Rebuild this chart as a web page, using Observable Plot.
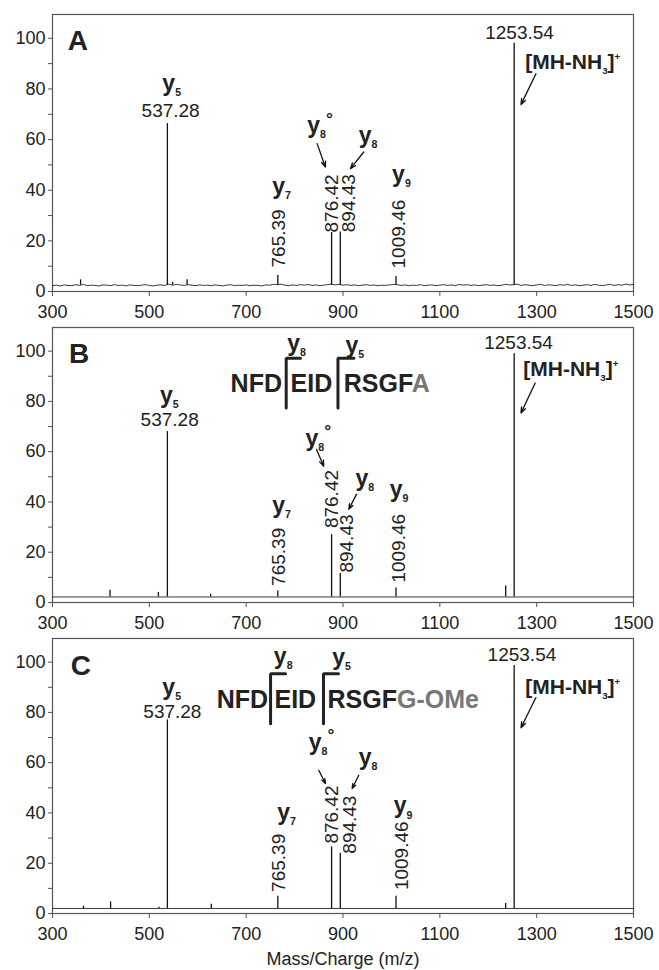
<!DOCTYPE html>
<html><head><meta charset="utf-8">
<script src="https://cdn.jsdelivr.net/npm/d3@7"></script>
<script src="https://cdn.jsdelivr.net/npm/@observablehq/plot@0.6"></script>
<style>
body{margin:0;background:#fff;}
#chart svg{display:block;}
</style></head><body><div id="chart"></div>
<script>
// ---- axes ----
const xTicks = [300, 500, 700, 900, 1100, 1300, 1500];
const yTicks = [0, 20, 40, 60, 80, 100];
const yMinorTicks = [10, 30, 50, 70, 90];
const xLabel = "Mass/Charge (m/z)";

// ---- spectra: [m/z, relative intensity] ----
const peaksA = [[358,4.6],[548,3.6],[578,4.6],[537.28,66.3],[765.39,6.3],[876.42,23.3],[894.43,23.5],[1009.46,5.9],[1253.54,98]];
const peaksB = [[418.8,4.9],[518.7,4.0],[537.28,68],[626.6,3.3],[765.39,4.6],[876.42,27],[894.43,11.5],[1009.46,5.8],[1236,6.6],[1253.54,99]];
const peaksC = [[364,2.9],[420,4.6],[520,2.5],[537.28,77],[628,3.7],[765.39,6.9],[876.42,26.5],[894.43,24],[1009.46,6.9],[1236,4],[1253.54,98.7]];
const baseA = 2.5, baseB = 2.2, baseC = 2.0;
const noiseA = [[300,2.3],[308,2.5],[316,2.2],[324,2.6],[332,2.4],[340,2.3],[348,2.7],[356,2.4],[364,2.8],[372,2.3],[380,2.5],[388,2.4],[396,2.2],[404,2.6],[412,2.5],[420,2.3],[428,2.7],[436,2.4],[444,2.5],[452,2.2],[460,2.6],[468,2.4],[476,2.3],[484,2.5],[492,2.7],[500,2.4],[508,2.2],[516,2.5],[524,2.6],[532,2.4],[540,2.9],[548,2.5],[556,2.8],[564,2.6],[572,2.4],[580,2.7],[588,2.5],[596,2.3],[604,2.6],[612,2.4],[620,2.5],[628,2.3],[636,2.6],[644,2.4],[652,2.2],[660,2.5],[668,2.7],[676,2.3],[684,2.5],[692,2.4],[700,2.6],[708,2.3],[716,2.5],[724,2.4],[732,2.2],[740,2.6],[748,2.5],[756,2.8],[764,2.7],[772,2.9],[780,2.5],[788,2.3],[796,2.6],[804,2.4],[812,2.7],[820,2.5],[828,2.8],[836,2.4],[844,2.6],[852,2.3],[860,2.5],[868,2.7],[876,2.9],[884,2.6],[892,2.8],[900,2.5],[908,2.7],[916,2.4],[924,2.6],[932,2.3],[940,2.5],[948,2.7],[956,2.4],[964,2.6],[972,2.3],[980,2.5],[988,2.4],[996,2.6],[1004,2.8],[1012,2.7],[1020,2.4],[1028,2.6],[1036,2.3],[1044,2.5],[1052,2.4],[1060,2.7],[1068,2.3],[1076,2.5],[1084,2.6],[1092,2.3],[1100,2.5],[1108,2.7],[1116,2.4],[1124,2.6],[1132,2.3],[1140,2.8],[1148,2.5],[1156,2.7],[1164,2.4],[1172,2.6],[1180,2.3],[1188,2.5],[1196,2.7],[1204,2.4],[1212,2.6],[1220,2.3],[1228,2.5],[1236,2.8],[1244,2.6],[1252,2.7],[1260,2.9],[1268,2.4],[1276,2.7],[1284,2.5],[1292,2.3],[1300,2.6],[1308,2.8],[1316,2.4],[1324,2.6],[1332,2.5],[1340,2.3],[1348,2.7],[1356,2.5],[1364,2.8],[1372,2.4],[1380,2.6],[1388,2.3],[1396,2.5],[1404,2.7],[1412,2.4],[1420,2.8],[1428,2.5],[1436,2.3],[1444,2.6],[1452,2.8],[1460,2.4],[1468,2.7],[1476,2.5],[1484,2.9],[1492,2.6],[1500,2.8]];
const noiseB = [[300,2.2],[1500,2.2]];
const noiseC = [[300,2.0],[1500,2.0]];

// ---- annotations (anchors in m/z, intensity) ----
const panelNames = [{t:"A", mz:331.6, v:98.8}, {t:"B", mz:334.2, v:98.7}, {t:"C", mz:337.8, v:98.4}];
const ionsA = [{t:"y_{5}",mz:526.9,v:79.3},{t:"y_{7}",mz:753.9,v:38.7},{t:"y_{8}^{°}",mz:826.1,v:62.5},{t:"y_{8}",mz:932.5,v:58.5},{t:"y_{9}",mz:1001.4,v:43.3}];
const ionsB = [{t:"y_{5}",mz:522,v:79.5},{t:"y_{7}",mz:753.9,v:35.8},{t:"y_{8}^{°}",mz:822.6,v:62.3},{t:"y_{8}",mz:925.7,v:46.4},{t:"y_{9}",mz:996.5,v:41.8},{t:"y_{8}",mz:784.8,v:100.1},{t:"y_{5}",mz:905.1,v:99.3}];
const ionsC = [{t:"y_{5}",mz:526.9,v:86.9},{t:"y_{7}",mz:764.2,v:37.2},{t:"y_{8}^{°}",mz:829.4,v:65.0},{t:"y_{8}",mz:932.5,v:59.1},{t:"y_{9}",mz:1004.7,v:39.8},{t:"y_{8}",mz:757.2,v:99.4},{t:"y_{5}",mz:877.6,v:98.8}];
const massH_A = [{t:"537.28",mz:544,v:71.5},{t:"1253.54",mz:1264.7,v:102}];
const massH_B = [{t:"537.28",mz:542,v:72.8},{t:"1253.54",mz:1262.6,v:103.2}];
const massH_C = [{t:"537.28",mz:547.6,v:80.1},{t:"1253.54",mz:1269.6,v:103}];
const massV_A = [{t:"765.39",mz:766.8,v:9.5},{t:"876.42",mz:876.7,v:23.3},{t:"894.43",mz:911.3,v:23.4},{t:"1009.46",mz:1015,v:9.1}];
const massV_B = [{t:"765.39",mz:766.8,v:6.6},{t:"876.42",mz:876.2,v:29.6},{t:"894.43",mz:908.6,v:11.9},{t:"1009.46",mz:1015,v:7.9}];
const massV_C = [{t:"765.39",mz:767.5,v:8.6},{t:"876.42",mz:876.5,v:27.8},{t:"894.43",mz:913.7,v:23.8},{t:"1009.46",mz:1022,v:9.3}];
const parentA = [{t:"[MH-NH_{3}]^{+}",mz:1276.3,v:90.5}];
const parentB = [{t:"[MH-NH_{3}]^{+}",mz:1272.3,v:92.7}];
const parentC = [{t:"[MH-NH_{3}]^{+}",mz:1276.4,v:90}];
const arrowsA = [{x1:846.6,y1:58.4,x2:863.7,y2:49.1},{x1:942.8,y1:55.1,x2:915.4,y2:48.5},{x1:1298.5,y1:86,x2:1267.6,y2:73.8}];
const arrowsB = [{x1:845.3,y1:60.9,x2:860.3,y2:54.2},{x1:927.8,y1:43,x2:911.9,y2:37.1},{x1:1297,y1:87.3,x2:1267.6,y2:75.4}];
const arrowsC = [{x1:850,y1:57,x2:863.8,y2:51.7},{x1:932.5,y1:55,x2:918.9,y2:49.7},{x1:1298.5,y1:85.9,x2:1267.6,y2:73.9}];
const seqB = [{t:"NFD",mz:667.8,v:83.7},{t:"EID",mz:791.6,v:83.7},{t:"RSGF#{A}",mz:901.6,v:83.7}];
const seqC = [{t:"NFD",mz:639,v:81.9},{t:"EID",mz:758.5,v:81.9},{t:"RSGF#{G-OMe}",mz:868,v:81.9}];
const bracketsB = [{xv:782.7,xh:812.2,top:97.2,bottom:77.4},{xv:889.6,xh:922.6,top:97.2,bottom:77.4}];
const bracketsC = [{xv:750.4,xh:781.3,top:95.4,bottom:75.5},{xv:859.7,xh:890.6,top:95.4,bottom:75.5}];

const FONT = "'Liberation Sans', Arial, Helvetica, sans-serif";

function panel(o) {
  const bracketPts = (o.brackets || []).flatMap((b, i) => [
    {id: i, x: b.xh, y: b.top}, {id: i, x: b.xv, y: b.top}, {id: i, x: b.xv, y: b.bottom}
  ]);
  const marks = [
    Plot.frame({stroke: "#555", strokeWidth: 1.2}),
    Plot.axisX(xTicks, {tickSize: 5, tickPadding: 9, fontSize: 18, stroke: "#555", fill: "#222", tickFormat: d => String(d), label: null}),
    Plot.axisY(yTicks, {tickSize: 4, tickPadding: 3, fontSize: 18, stroke: "#555", fill: "#222", tickFormat: d => String(d), label: null}),
    Plot.axisY(yMinorTicks, {tickSize: 4, stroke: "#555", tickFormat: () => "", label: null}),
    Plot.line(o.noise, {x: d => d[0], y: d => d[1], stroke: "#222", strokeWidth: 0.9}),
    Plot.ruleX(o.peaks, {x: d => d[0], y1: o.base, y2: d => d[1], stroke: "#111", strokeWidth: 1.3}),
    Plot.text([o.name], {x: "mz", y: "v", text: "t", textAnchor: "start", lineAnchor: "middle", fontSize: 28, fontWeight: "bold", fill: "#222"}),
    Plot.text(o.ions, {x: "mz", y: "v", text: "t", textAnchor: "start", lineAnchor: "bottom", fontSize: 23, fontWeight: "bold", fill: "#222"}),
    Plot.text(o.massH, {x: "mz", y: "v", text: "t", textAnchor: "middle", lineAnchor: "middle", fontSize: 19, fill: "#222"}),
    Plot.text(o.massV, {x: "mz", y: "v", text: "t", rotate: -90, textAnchor: "start", lineAnchor: "middle", fontSize: 19, fill: "#222"}),
    Plot.text(o.parent, {x: "mz", y: "v", text: "t", textAnchor: "start", lineAnchor: "middle", fontSize: 21, fontWeight: "bold", fill: "#222"}),
    Plot.arrow(o.arrows, {x1: "x1", y1: "y1", x2: "x2", y2: "y2", stroke: "#111", strokeWidth: 1.3, headLength: 7, headAngle: 40})
  ];
  if (o.seq) {
    marks.push(Plot.text(o.seq, {x: "mz", y: "v", text: "t", textAnchor: "start", lineAnchor: "bottom", fontSize: 25, fontWeight: "bold", fill: "#222"}));
    marks.push(Plot.line(bracketPts, {x: "x", y: "y", z: "id", stroke: "#222", strokeWidth: 3, strokeLinejoin: "miter"}));
  }
  if (o.xLabel) {
    marks.push(Plot.text([o.xLabel], {frameAnchor: "bottom", dy: 46, lineAnchor: "middle", fontSize: 18, fill: "#222"}));
  }
  return Plot.plot({
    width: 659,
    height: o.height,
    marginLeft: 52,
    marginRight: 26,
    marginTop: o.marginTop,
    marginBottom: o.marginBottom,
    style: {fontFamily: FONT, background: "white", color: "#222", overflow: "visible"},
    x: {domain: [300, 1500]},
    y: {domain: [0, 109.4]},
    marks
  });
}

const chart = document.getElementById("chart");
const plots = [
  panel({height: 325, marginTop: 14, marginBottom: 34, peaks: peaksA, base: baseA, noise: noiseA, name: panelNames[0], ions: ionsA, massH: massH_A, massV: massV_A, parent: parentA, arrows: arrowsA}),
  panel({height: 311, marginTop: 2, marginBottom: 34, peaks: peaksB, base: baseB, noise: noiseB, name: panelNames[1], ions: ionsB, massH: massH_B, massV: massV_B, parent: parentB, arrows: arrowsB, seq: seqB, brackets: bracketsB}),
  panel({height: 334, marginTop: 2, marginBottom: 57, peaks: peaksC, base: baseC, noise: noiseC, name: panelNames[2], ions: ionsC, massH: massH_C, massV: massV_C, parent: parentC, arrows: arrowsC, seq: seqC, brackets: bracketsC, xLabel})
];
plots.forEach(p => chart.appendChild(p));

// rich text: _{sub}, ^{sup}, #{gray}
function richify(root) {
  root.querySelectorAll("text").forEach(t => {
    const s = t.textContent;
    if (!/[_^#]\{/.test(s)) return;
    const fs = parseFloat(getComputedStyle(t).fontSize) || 20;
    t.textContent = "";
    let offset = 0;
    const re = /([_^#])\{([^}]*)\}|([^_^#]+)/g;
    let m;
    while ((m = re.exec(s))) {
      const ts = document.createElementNS("http://www.w3.org/2000/svg", "tspan");
      let target = 0, text, size = null, fill = null;
      if (m[1] === "_") { target = 0.22 * fs; size = 0.46 * fs; text = m[2]; }
      else if (m[1] === "^") {
        text = m[2];
        if (text === "°") { target = -0.38 * fs; size = 0.75 * fs; }
        else { target = -0.45 * fs; size = 0.46 * fs; }
      }
      else if (m[1] === "#") { text = m[2]; fill = "#777"; }
      else text = m[3];
      const d = target - offset;
      if (d) ts.setAttribute("dy", d.toFixed(2));
      offset = target;
      if (size) ts.setAttribute("font-size", size.toFixed(1));
      if (fill) ts.setAttribute("fill", fill);
      ts.textContent = text;
      t.appendChild(ts);
    }
  });
}
richify(chart);
</script>
</body></html>
